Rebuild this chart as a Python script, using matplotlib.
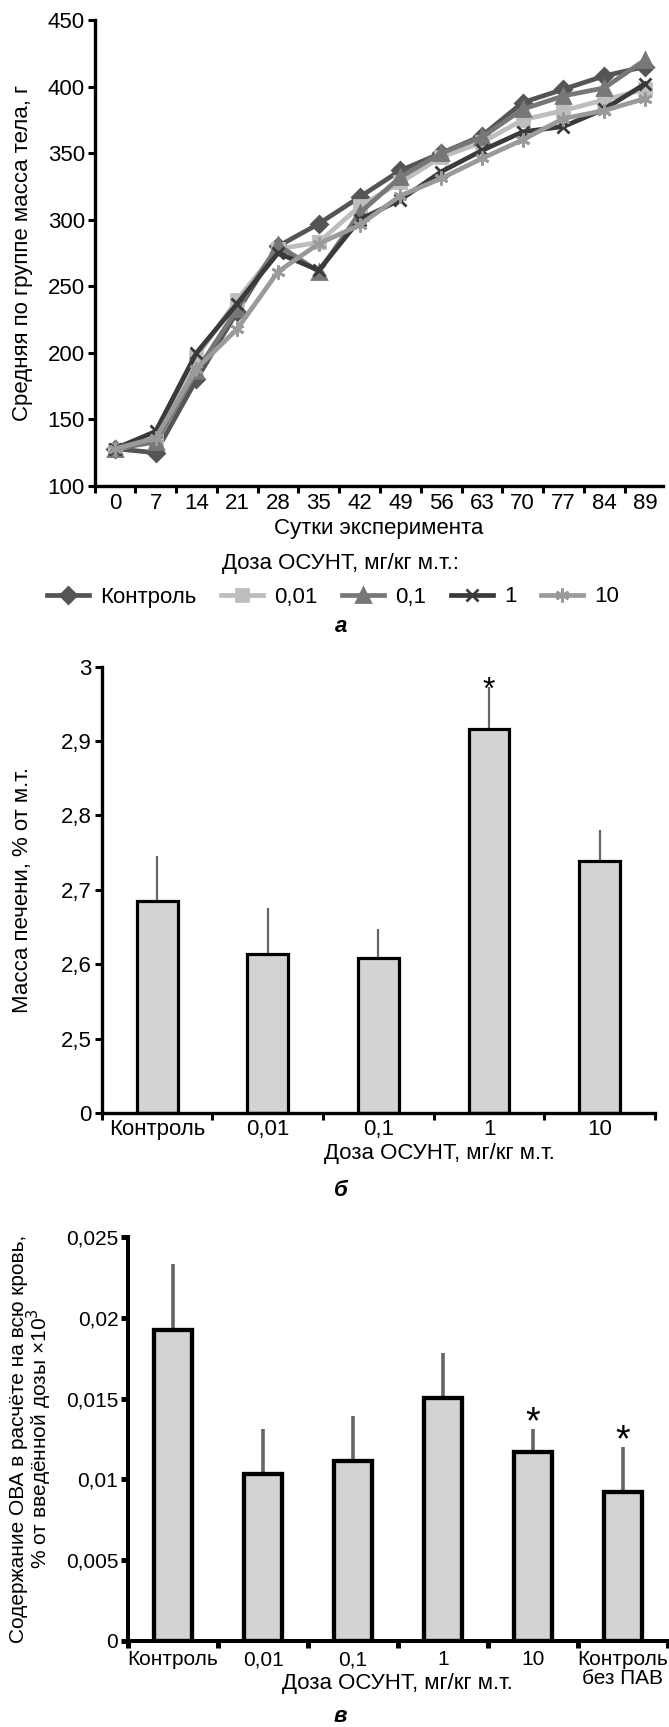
import numpy as np
import matplotlib.pyplot as plt

plt.rcParams['font.family'] = ['Liberation Sans', 'DejaVu Sans']

# --- а: body mass by day ---
days = ["0", "7", "14", "21", "28", "35", "42", "49", "56", "63", "70", "77", "84", "89"]
mass_control = [128, 125, 180, 231, 280, 297, 317, 337, 350, 363, 388, 398, 408, 415]
mass_001 = [127, 135, 197, 240, 278, 283, 310, 328, 347, 358, 375, 382, 390, 398]
mass_01 = [128, 133, 186, 233, 281, 261, 305, 332, 350, 362, 383, 393, 399, 420]
mass_1 = [128, 141, 200, 237, 275, 262, 300, 315, 336, 352, 366, 370, 383, 402]
mass_10 = [128, 136, 188, 218, 261, 282, 296, 318, 331, 346, 360, 376, 382, 391]

# --- б: liver mass ---
groups_b = ["Контроль", "0,01", "0,1", "1", "10"]
liver = [2.685, 2.614, 2.608, 2.916, 2.739]
liver_top = [2.746, 2.675, 2.648, 2.973, 2.781]
liver_star = [False, False, False, True, False]

# --- в: OVA in blood ---
groups_v = ["Контроль", "0,01", "0,1", "1", "10", "Контроль\nбез ПАВ"]
ova = [0.01925, 0.01032, 0.01114, 0.01501, 0.01167, 0.00921]
ova_top = [0.0233, 0.0131, 0.0139, 0.0178, 0.0131, 0.0120]
ova_star = [False, False, False, False, True, True]

W, H = 669, 1727
fig = plt.figure(figsize=(W / 100, H / 100), dpi=100)


def box(l, r, t, b):
    # pixel box -> figure fraction
    return [l / W, 1 - b / H, (r - l) / W, (b - t) / H]


def style(ax, lw, tw):
    for s in ['top', 'right']:
        ax.spines[s].set_visible(False)
    for s in ['left', 'bottom']:
        ax.spines[s].set_linewidth(lw)
    ax.tick_params(axis='x', which='major', length=0)
    ax.tick_params(axis='x', which='minor', length=5, width=tw, direction='out')
    ax.tick_params(axis='y', length=5, width=tw, direction='out')


# ---------------- а ----------------
ax = fig.add_axes(box(94.5, 663, 20, 486))
x = np.arange(len(days))
series = [
    (mass_control, "Контроль", "#555555", "D", 8),
    (mass_001, "0,01", "#bdbdbd", "s", 8.5),
    (mass_01, "0,1", "#777777", "^", 10),
    (mass_1, "1", "#3a3a3a", "x", 9),
    (mass_10, "10", "#9a9a9a", (6, 2, 0), 10),
]
handles = []
for vals, lab, col, mk, ms in series:
    h, = ax.plot(x, vals, color=col, lw=3.4, marker=mk, ms=ms, mew=2,
                 mfc=col, mec=col, label=lab)
    handles.append(h)
ax.set_xlim(-0.5, 13.44)
ax.set_ylim(100, 450)
ax.set_yticks(np.arange(100, 451, 50))
ax.set_xticks(x)
ax.set_xticklabels(days)
ax.set_xticks(np.arange(-0.5, 13.5, 1), minor=True)
style(ax, 2.4, 2.2)
ax.tick_params(axis='x', which='major', labelsize=16, pad=5)
ax.tick_params(axis='y', labelsize=16, pad=2)
ax.set_xlabel("Сутки эксперимента", fontsize=16, va='top')
ax.xaxis.set_label_coords(0.5, -0.069)
ax.set_ylabel("Средняя по группе масса тела, г", fontsize=16)
ax.yaxis.set_label_coords(-0.108, 0.5)
fig.text(341 / W, 1 - 563 / H, "Доза ОСУНТ, мг/кг м.т.:", ha='center', va='center', fontsize=16)
fig.legend(handles=handles, loc='center', bbox_to_anchor=(333 / W, 1 - 597 / H), ncol=5,
           frameon=False, fontsize=16, handlelength=1.9, columnspacing=1.1,
           handletextpad=0.5, borderpad=0, borderaxespad=0)
fig.text(341 / W, 1 - 627 / H, "а", ha='center', va='center', fontsize=16,
         fontweight='bold', fontstyle='italic')


def brk(v):
    # broken axis: 0..2,5 squeezed into one tick step
    v = np.asarray(v, dtype=float)
    return np.where(v <= 2.5, v / 2.5, 1 + (v - 2.5) / 0.1)


# ---------------- б ----------------
ax2 = fig.add_axes(box(101.7, 655, 666.7, 1113))
xb = np.arange(len(groups_b))
hb = brk(liver)
ax2.bar(xb, hb, width=0.37, color="#d3d3d3", edgecolor="black", linewidth=2.3, zorder=2)
ax2.errorbar(xb, hb, yerr=[np.zeros(len(xb)), brk(liver_top) - hb], fmt='none',
             ecolor="#666666", elinewidth=1.6, capsize=0, zorder=1)
for xi, t, st in zip(xb, liver_top, liver_star):
    if st:
        ax2.annotate("*", (xi, float(brk(t))), xytext=(0, -8.5), textcoords='offset points',
                     ha='center', va='baseline', fontsize=23)
ax2.set_xlim(-0.5, 4.5)
ax2.set_ylim(0, 6)
ax2.set_yticks(brk([0, 2.5, 2.6, 2.7, 2.8, 2.9, 3.0]))
ax2.set_yticklabels(["0", "2,5", "2,6", "2,7", "2,8", "2,9", "3"])
ax2.set_xticks(xb)
ax2.set_xticklabels(groups_b)
ax2.set_xticks(np.arange(-0.5, 5, 1), minor=True)
style(ax2, 2.4, 2.2)
ax2.tick_params(axis='x', which='major', labelsize=16, pad=4.5)
ax2.tick_params(axis='y', labelsize=16, pad=2)
ax2.set_ylabel("Масса печени, % от м.т.", fontsize=16)
ax2.yaxis.set_label_coords(-0.124, 0.5)
fig.text(439.5 / W, 1 - 1154 / H, "Доза ОСУНТ, мг/кг м.т.", ha='center', va='center',
         fontsize=16)
fig.text(341 / W, 1 - 1190 / H, "б", ha='center', va='center', fontsize=16,
         fontweight='bold', fontstyle='italic')

# ---------------- в ----------------
ax3 = fig.add_axes(box(128, 668, 1237, 1641))
xv = np.arange(len(groups_v))
ax3.bar(xv, ova, width=0.42, color="#d3d3d3", edgecolor="black", linewidth=3.1, zorder=2)
ax3.errorbar(xv, ova, yerr=[np.zeros(len(xv)), np.array(ova_top) - np.array(ova)],
             fmt='none', ecolor="#666666", elinewidth=2.6, capsize=0, zorder=1)
for xi, t, st in zip(xv, ova_top, ova_star):
    if st:
        ax3.annotate("*", (xi, t), xytext=(0, -3), textcoords='offset points',
                     ha='center', va='baseline', fontsize=27)
ax3.set_xlim(-0.5, 5.5)
ax3.set_ylim(0, 0.025)
ax3.set_yticks([0, 0.005, 0.01, 0.015, 0.02, 0.025])
ax3.set_yticklabels(["0", "0,005", "0,01", "0,015", "0,02", "0,025"])
ax3.set_xticks(xv)
ax3.set_xticklabels(groups_v, linespacing=1.0)
ax3.set_xticks(np.arange(-0.5, 6, 1), minor=True)
style(ax3, 2.9, 3.6)
ax3.tick_params(axis='x', which='major', labelsize=15, pad=6.5)
ax3.tick_params(axis='y', labelsize=15, pad=2)
ax3.set_ylabel("Содержание ОВА в расчёте на всю кровь,\n% от введённой дозы ×10$^3$",
               fontsize=15, linespacing=0.88)
ax3.yaxis.set_label_coords(-0.137, 0.5)
fig.text(397 / W, 1 - 1684 / H, "Доза ОСУНТ, мг/кг м.т.", ha='center', va='center',
         fontsize=16)
fig.text(340 / W, 1 - 1717 / H, "в", ha='center', va='center', fontsize=16,
         fontweight='bold', fontstyle='italic')

fig.savefig("out.png", dpi=100)
